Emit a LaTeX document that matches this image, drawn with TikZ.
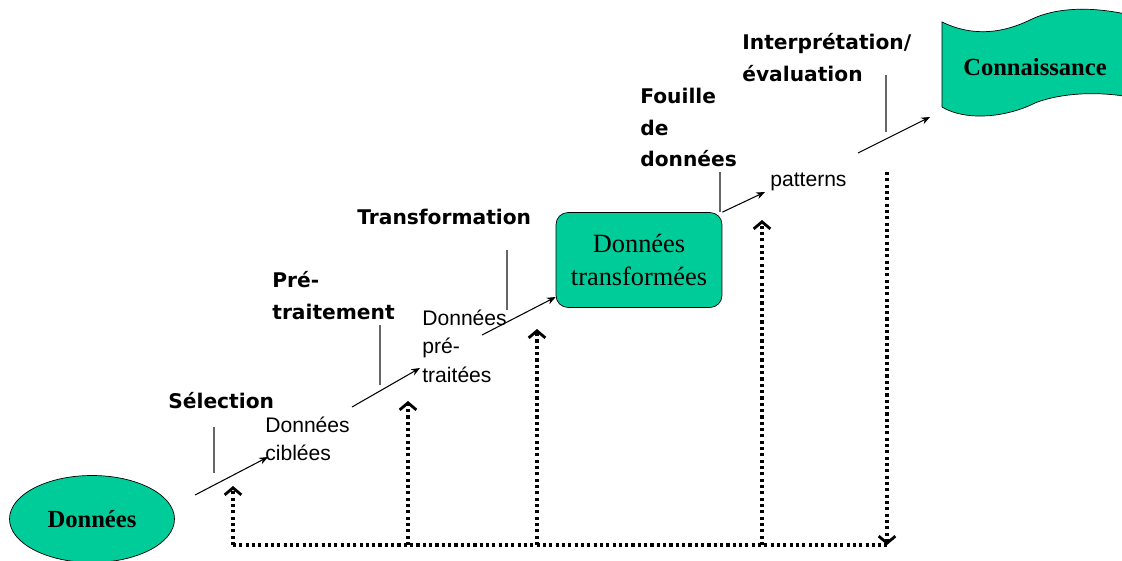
\documentclass[tikz,border=0pt]{standalone}
\usepackage{fontspec}
\setmainfont{Liberation Serif}
\setsansfont{Liberation Sans}
\newfontfamily\stepfont{DejaVu Sans}
\usetikzlibrary{arrows.meta, shapes.geometric}
\definecolor{vert}{HTML}{00CC99}
\tikzset{>=stealth,
  flow/.style={->, >={Stealth[length=5pt,width=4pt]}, line width=0.6pt},
  tick/.style={draw=black!60, line width=0.9pt},
  feed/.style={line width=1.9pt, dash pattern=on 1.8pt off 1.8pt},
  feedtip/.style={-{Straight Barb[length=4pt,width=9.5pt,line width=1.6pt]}},
  steplabel/.style={anchor=north west, inner sep=0pt, align=left, font=\stepfont\bfseries\fontsize{11.5}{18}\selectfont},
  datalabel/.style={anchor=north west, inner sep=0pt, align=left, font=\sffamily\fontsize{12}{16}\selectfont}}

\begin{document}
\begin{tikzpicture}[x=0.02cm, y=-0.02cm]
    \useasboundingbox (0,0) rectangle (1122,561);
    \node[ellipse, draw, fill=vert, minimum width=3.3cm, minimum height=1.74cm,
      font=\bfseries\fontsize{14}{16}\selectfont] (data) at (92,519) {Données};
    \node[datalabel] (target) at (265,417) {Données\\ciblées};
    \node[datalabel] (prep) at (422,310) {Données\\pré-\\traitées};
    \node[draw, fill=vert, rounded corners=0.24cm, minimum width=3.32cm, minimum height=1.9cm,
      align=center, font=\fontsize{15}{19}\selectfont] (trans) at (639,260) {Données\\transformées};
    \node[datalabel] (pat) at (770,173) {patterns};
    \draw[fill=vert] (942,22) .. controls (975,38) and (1005,32) .. (1030,20)
      .. controls (1060,5) and (1100,8) .. (1130,15) -- (1130,97)
      .. controls (1090,90) and (1055,95) .. (1035,103)
      .. controls (1005,118) and (965,121) .. (942,107) -- cycle;
    \node[font=\bfseries\fontsize{14}{16}\selectfont] (know) at (1035,67) {Connaissance};
    \node[steplabel] (sel) at (168,392) {Sélection};
    \node[steplabel] (pre) at (272,271) {Pré-\\traitement};
    \node[steplabel] (tra) at (357,209) {Transformation};
    \node[steplabel] (fou) at (640,88) {Fouille\\de\\données};
    \node[steplabel] (int) at (742,33) {Interprétation/\\évaluation};
    \coordinate (a1) at (195,495);
    \coordinate (a2) at (352,407);
    \coordinate (a3) at (482,335);
    \coordinate (a4) at (858,153);
    \draw[flow] (a1) -- (268,457);
    \draw[flow] (a2) -- (420,368);
    \draw[flow] (a3) -- (trans.south west |- 0,297);
    \draw[flow] (trans.north east) -- (765,192);
    \draw[flow] (a4) -- (930,117);
    \foreach \x/\ya/\yb in {214/427/473, 380/325/385, 507/250/310, 720/172/212, 886/75/132}
    \draw[tick] (\x,\ya) -- (\x,\yb);
    \coordinate (b1) at (233,545);
    \coordinate (b2) at (408,545);
    \coordinate (b3) at (537,545);
    \coordinate (b4) at (762,545);
    \coordinate (b5) at (887,545);
    \draw[feed] (b1) -- (b5);
    \draw[feed, feedtip] (b1) -- (233,486);
    \draw[feed, feedtip] (b2) -- (408,401);
    \draw[feed, feedtip] (b3) -- (537,329);
    \draw[feed, feedtip] (b4) -- (762,220);
    \draw[feed, feedtip] (887,172) -- (b5);
\end{tikzpicture}
\end{document}
